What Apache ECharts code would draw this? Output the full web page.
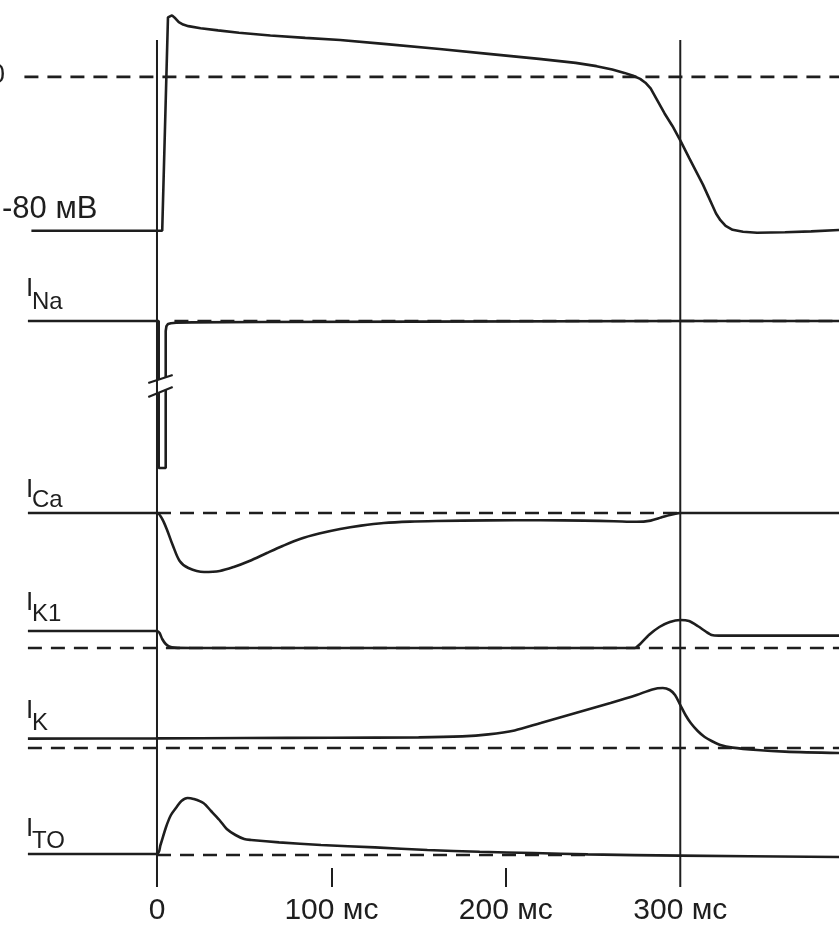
<!DOCTYPE html>
<html><head><meta charset="utf-8">
<script src="https://cdn.jsdelivr.net/npm/echarts@6/dist/echarts.min.js"></script>
<style>html,body{margin:0;padding:0;background:#fff}#c{width:839px;height:927px}</style>
</head><body><div id="c"></div>
<script>
// ---- time axis (ms) ----
const timeRange = [-90, 391];
const eventTimes = [0, 300];
const tickTimes = [100, 200];
const labelTimes = [0, 100, 200, 300];
const timeUnit = 'мс';

// ---- action potential (mV) ----
const apTrace = [[-72,-80],[3,-80],[6.3,31],[8.6,32],[10.5,30.5],[12.5,28.5],[15,27.2],[18,26.4],[25,25.3],[35,24.2],[47,23],[65,21.5],[85,20.3],[105,19.2],[130,17.2],[162,14.5],[190,12],[219,9.4],[240,7.3],[252,5.6],[261,3.9],[268,2.1],[273,0.6],[277,-1],[280,-3],[283,-6],[287,-12.5],[291,-19],[295.5,-25.5],[300,-33],[305,-42],[309,-49],[313,-56],[316,-62],[318.5,-67],[320.5,-71],[323,-74.5],[326,-77.5],[330,-79.5],[336,-80.5],[344,-81],[360,-80.8],[375,-80.3],[391,-79.6]];
const apZero = [[-76,0],[391,0]];

// ---- currents (relative units) ----
const naTrace = [[-74,0],[1,0],[1,-29.3],'-',[1,-35.9],[1,-73.5],[5,-73.5],[5,-34.4],'-',[5,-28.1],[5,-5],[5.4,-2.6],[6.3,-1.5],[8,-1.1],[11,-0.9],[20,-0.7],[60,-0.5],[150,-0.3],[300,0],[391,0]];
const naBreakA = [[-5,-31],[9,-27]];
const naBreakB = [[-5,-38],[9,-33]];
const naZero = [[10,0],[391,0]];

const caTrace = [[-74,0],[0,0],[3,-3],[6,-9],[9,-16],[13,-24],[18,-27.5],[27,-29.5],[36,-29],[44,-27],[53,-24],[63,-20],[72,-16.5],[82,-13],[93,-10.3],[105,-8],[117,-6.3],[130,-5],[145,-4.3],[160,-4],[190,-3.7],[220,-3.6],[245,-3.8],[262,-4.1],[275,-4.4],[283,-3.8],[289,-2.3],[294,-1],[298,-0.2],[300,0],[391,0]];
const caZero = [[0,0],[300,0]];

const k1Trace = [[-74,8.5],[0,8.5],[1.5,7.5],[3,4.5],[5,2],[7,0.8],[10,0.2],[20,0],[274,0],[277,2],[282,6.5],[288,10.5],[294,13],[300,14],[305,13.5],[310,11],[315,8],[318,6.5],[322,6.2],[391,6.2]];
const k1Zero = [[-74,0],[391,0]];

const kTrace = [[-74,4.7],[0,4.8],[50,5],[100,5.1],[150,5.3],[175,5.8],[190,6.8],[205,8.8],[220,12.5],[240,17.5],[260,22.5],[275,26.5],[284,29.3],[290,30],[294,29],[297,26.5],[300,21.5],[303,16.5],[306,12.5],[310,8.5],[314,5.5],[318,3.5],[323,1.5],[330,0.2],[344,-1],[360,-1.8],[391,-2.5]];
const kZero = [[-74,0],[391,0]];

const toTrace = [[-74,0.5],[0,0.5],[2,5],[5.2,14],[8,20],[11.3,24],[14,27],[17.5,28.5],[21,28],[26.6,26],[31,22],[35.8,17.5],[40,13],[45,10],[50,8],[54,7.5],[70,6.3],[94,5],[125,3.8],[155,2.5],[185,1.6],[216,1],[247,0.3],[300,-0.3],[391,-1]];
const toZero = [[0,0],[250,0]];

// ---- labels ----
const apLabels = ['0', '-80 мВ'];
const currentNames = [['I','Na'],['I','Ca'],['I','K1'],['I','K'],['I','TO']];

const INK = '#1e1e1e';
const FONT = "'Liberation Sans', Arial, Helvetica, sans-serif";

// panel layout: [top, height, ymin, ymax]
const panels = [
  [0, 250, -90, 40],
  [296, 200, -87.5, 12.5],
  [480, 110, -38.5, 16.5],
  [600, 70, -11, 24],
  [650, 120, -11, 49],
  [780, 110, -17.5, 37.5]
];

const grid = panels.map(p => ({left: 0, right: 0, top: p[0], height: p[1]}));
grid.push({left: 0, right: 0, top: 40, bottom: 40});

const xAxis = panels.map((p, i) => ({type: 'value', gridIndex: i, min: timeRange[0], max: timeRange[1], show: false}));
xAxis.push({
  type: 'value', gridIndex: 6, min: timeRange[0], max: timeRange[1], position: 'bottom',
  axisLine: {show: false}, splitLine: {show: false},
  axisTick: {show: true, inside: true, length: 19, customValues: tickTimes, lineStyle: {color: INK, width: 2}},
  axisLabel: {show: true, customValues: labelTimes, margin: 9, color: INK, fontSize: 30, fontFamily: FONT,
    formatter: v => v === 0 ? '0' : v + ' ' + timeUnit}
});
const yAxis = panels.map((p, i) => ({type: 'value', gridIndex: i, min: p[2], max: p[3], show: false}));
yAxis.push({type: 'value', gridIndex: 6, min: 0, max: 1, show: false});

function solid(data, gi, w, sm) {
  return {type: 'line', xAxisIndex: gi, yAxisIndex: gi, data, showSymbol: false, symbol: 'none',
    smooth: sm || false, lineStyle: {color: INK, width: w || 2.6}, silent: true};
}
function dashed(data, gi) {
  return {type: 'line', xAxisIndex: gi, yAxisIndex: gi, data, showSymbol: false, symbol: 'none',
    lineStyle: {color: INK, width: 2.6, type: [14, 9]}, silent: true};
}

const vlines = [];
eventTimes.forEach((t, i) => { if (i) vlines.push('-'); vlines.push([t, 0], [t, 1]); });

const series = [
  dashed(apZero, 0), solid(apTrace, 0),
  dashed(naZero, 1), solid(naTrace, 1), solid(naBreakA, 1, 2.2), solid(naBreakB, 1, 2.2),
  dashed(caZero, 2), solid(caTrace, 2, 2.6, 0.3),
  dashed(k1Zero, 3), solid(k1Trace, 3, 2.6, 0.2),
  dashed(kZero, 4), solid(kTrace, 4, 2.6, 0.3),
  dashed(toZero, 5), solid(toTrace, 5, 2.6, 0.3),
  solid(vlines, 6, 2)
];

// label layout (pixels): [x, yI, ySub]
const labelPos = [[26, 289, 302], [26, 490, 500], [26, 603, 614], [26, 711, 723], [26, 829, 841]];
const graphic = [
  {type: 'text', left: -10, top: 62, style: {text: apLabels[0], fill: INK, font: '27px ' + FONT}},
  {type: 'text', left: 2, top: 194, style: {text: apLabels[1], fill: INK, font: '31px ' + FONT}}
];
currentNames.forEach((n, i) => {
  const p = labelPos[i];
  graphic.push({type: 'text', x: p[0], y: p[1], style: {text: n[0], fill: INK, font: '26px ' + FONT, verticalAlign: 'middle'}});
  graphic.push({type: 'text', x: p[0] + 6, y: p[2], style: {text: n[1], fill: INK, font: '24px ' + FONT, verticalAlign: 'middle'}});
});

const chart = echarts.init(document.getElementById('c'), null, {renderer: 'canvas'});
chart.setOption({animation: false, backgroundColor: '#fff', grid, xAxis, yAxis, series, graphic});
</script></body></html>
